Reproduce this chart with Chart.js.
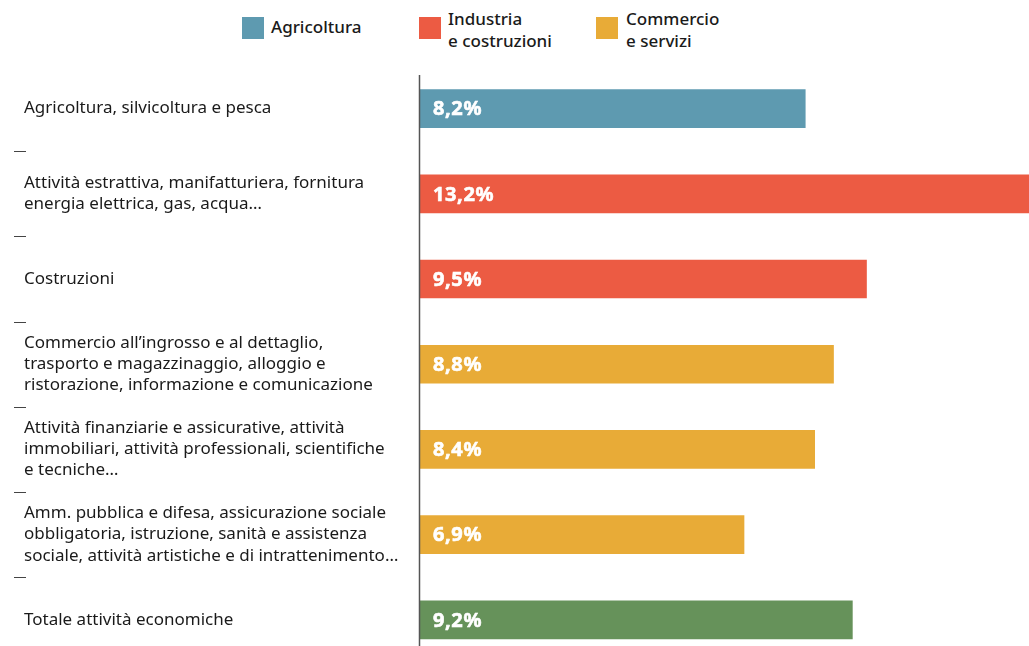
<!DOCTYPE html>
<html>
<head>
<meta charset="utf-8">
<script src="https://cdn.jsdelivr.net/npm/chart.js@4.4.0/dist/chart.umd.min.js"></script>
<style>
    html, body { margin: 0; padding: 0; background: #fff; overflow: hidden; }
    body { width: 1029px; height: 646px; position: relative; font-family: "Noto Sans", sans-serif; }
    #wrap { position: absolute; left: 0; top: 0; width: 1029px; height: 673px; }
    .leg { position: absolute; top: 17px; font-size: 17px; font-weight: 500; color: #1a1a1a; line-height: 22px; }
    .leg i { position: absolute; left: 0; top: 0; width: 22px; height: 22px; }
    .leg span { position: absolute; top: -2px; white-space: nowrap; }
</style>
</head>
<body>
<div class="leg" style="left:242px"><i style="background:#5e9ab0"></i><span style="left:29px;top:-1px">Agricoltura</span></div>
<div class="leg" style="left:419px"><i style="background:#ec5b43"></i><span style="left:29px;top:-9px">Industria<br>e costruzioni</span></div>
<div class="leg" style="left:596px"><i style="background:#e8ab37"></i><span style="left:30px;top:-9px">Commercio<br>e servizi</span></div>
<div id="wrap"><canvas id="chart"></canvas></div>
<script>
const categories = [
    ['Agricoltura, silvicoltura e pesca'],
    ['Attività estrattiva, manifatturiera, fornitura', 'energia elettrica, gas, acqua…'],
    ['Costruzioni'],
    ['Commercio all’ingrosso e al dettaglio,', 'trasporto e magazzinaggio, alloggio e', 'ristorazione, informazione e comunicazione'],
    ['Attività finanziarie e assicurative, attività', 'immobiliari, attività professionali, scientifiche', 'e tecniche…'],
    ['Amm. pubblica e difesa, assicurazione sociale', 'obbligatoria, istruzione, sanità e assistenza', 'sociale, attività artistiche e di intrattenimento…'],
    ['Totale attività economiche']
];
const values = [8.2, 13.2, 9.5, 8.8, 8.4, 6.9, 9.2];
const sectors = ['agri', 'ind', 'ind', 'comm', 'comm', 'comm', 'tot'];
const sectorColors = { agri: '#5e9ab0', ind: '#ec5b43', comm: '#e8ab37', tot: '#66925a' };

// separatori a sinistra, asse verticale e percentuali dentro le barre
const decorations = {
    id: 'decorations',
    afterDatasetsDraw(chart) {
        const ctx = chart.ctx;
        const area = chart.chartArea;
        const step = (area.bottom - area.top) / categories.length;
        ctx.save();
        ctx.strokeStyle = '#444';
        ctx.lineWidth = 1;
        for (let k = 1; k < categories.length; k++) {
            const y = Math.round(area.top + k * step) + 0.5;
            ctx.beginPath();
            ctx.moveTo(14, y);
            ctx.lineTo(26, y);
            ctx.stroke();
        }
        ctx.strokeStyle = '#555';
        ctx.lineWidth = 1.5;
        ctx.beginPath();
        ctx.moveTo(area.left + 0.5, 75);
        ctx.lineTo(area.left + 0.5, area.bottom);
        ctx.stroke();

        ctx.fillStyle = '#fff';
        ctx.strokeStyle = '#fff';
        ctx.lineWidth = 0.6;
        ctx.font = 'bold 20px "Noto Sans"';
        ctx.letterSpacing = '0.6px';
        ctx.textBaseline = 'middle';
        chart.getDatasetMeta(0).data.forEach((bar, i) => {
            const txt = values[i].toFixed(1).replace('.', ',') + '%';
            ctx.fillText(txt, area.left + 14, bar.y + 1);
            ctx.strokeText(txt, area.left + 14, bar.y + 1);
        });
        ctx.restore();
    }
};

new Chart(document.getElementById('chart'), {
    type: 'bar',
    data: {
        labels: categories,
        datasets: [{
            data: values,
            backgroundColor: sectors.map(s => sectorColors[s]),
            barThickness: 38
        }]
    },
    options: {
        indexAxis: 'y',
        responsive: true,
        maintainAspectRatio: false,
        animation: false,
        layout: { padding: { top: 66, left: 24, right: 0, bottom: 0 } },
        plugins: { legend: { display: false }, tooltip: { enabled: false } },
        scales: {
            x: { display: false, min: 0, max: 12.95 },
            y: {
                grid: { display: false },
                border: { display: false },
                afterFit(scale) { scale.width = 395; },
                ticks: {
                    crossAlign: 'far',
                    padding: 0,
                    color: '#1a1a1a',
                    font: { family: 'Noto Sans', size: 17, lineHeight: 1.24 }
                }
            }
        }
    },
    plugins: [decorations]
});
</script>
</body>
</html>
